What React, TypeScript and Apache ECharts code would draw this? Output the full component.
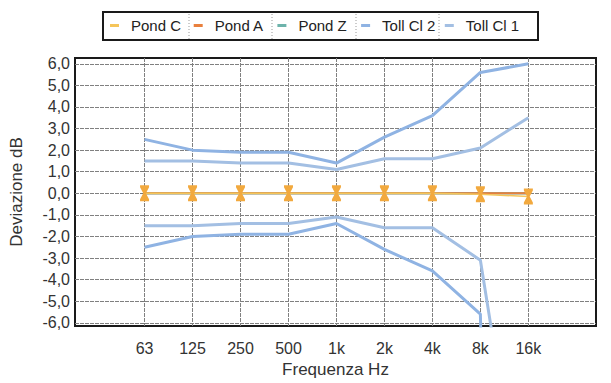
import React, { useEffect, useRef } from "react";
import * as echarts from "echarts";

const freqLabels = ["63", "125", "250", "500", "1k", "2k", "4k", "8k", "16k"];
const legendNames = ["Pond C", "Pond A", "Pond Z", "Toll Cl 2", "Toll Cl 1"];
const pondC = [0, 0, 0, 0, 0, 0, 0, -0.05, -0.15];
const pondA = [0, 0, 0, 0, 0, 0, 0, 0, 0];
const pondZ = [0, 0, 0, 0, 0, 0, 0, 0, 0];
const toll2Upper = [2.5, 2.0, 1.9, 1.9, 1.4, 2.6, 3.6, 5.6, 6.0];
const toll2Lower = [-2.5, -2.0, -1.9, -1.9, -1.4, -2.6, -3.6, -5.6, -100];
const toll1Upper = [1.5, 1.5, 1.4, 1.4, 1.1, 1.6, 1.6, 2.1, 3.5];
const toll1Lower = [-1.5, -1.5, -1.4, -1.4, -1.1, -1.6, -1.6, -3.1, -17];
const yTicks = [-6, -5, -4, -3, -2, -1, 0, 1, 2, 3, 4, 5, 6];
const xTicks = freqLabels.map((_, i) => i);

const toPairs = (arr: number[]) => arr.map((v, i) => [i, v]);

const FONT = "Liberation Sans";
const hourglass =
  "path://M0,0 L10,0 L10,2 L6.5,8 L10,14 L10,16 L0,16 L0,14 L3.5,8 L0,2 Z";

const C_POND_C = "#f5c55a";
const C_POND_A = "#e9803d";
const C_POND_Z = "#6db3ab";
const C_TOLL2 = "#8fb3e3";
const C_TOLL1 = "#a3bfe3";
const C_MARKER = "#f2a93e";

export default function App() {
  const ref = useRef<HTMLDivElement>(null);
  useEffect(() => {
    if (!ref.current) return;
    const chart = echarts.init(ref.current, null, { renderer: "svg" });
    const tollLine = (name: string, data: number[], color: string) => ({
      name,
      type: "line",
      data: toPairs(data),
      showSymbol: false,
      symbol: "none",
      lineStyle: { color, width: 3 },
      itemStyle: { color },
      z: 3,
    });
    chart.setOption({
      animation: false,
      backgroundColor: "#ffffff",
      textStyle: { fontFamily: FONT },
      legend: legendNames.map((name, i) => ({
        left: 110 + 83.7 * i,
        top: 18,
        padding: 0,
        icon: "rect",
        itemWidth: 9,
        itemHeight: 3,
        textStyle: {
          fontSize: 15,
          color: "#222",
          fontFamily: FONT,
          padding: [0, 0, 0, 7],
        },
        data: [name],
      })),
      graphic: [
        {
          type: "rect",
          shape: { x: 103, y: 12, width: 435, height: 28 },
          style: { fill: "none", stroke: "#1a1a1a", lineWidth: 2 },
          z: 100,
        },
        ...[189, 272, 356, 439].map((x) => ({
          type: "line",
          shape: { x1: x, y1: 14, x2: x, y2: 39 },
          style: { stroke: "#999", lineWidth: 1, lineDash: [1, 2] },
          z: 100,
        })),
      ],
      grid: {
        left: 72,
        right: 15,
        top: 58,
        bottom: 54,
        show: true,
        borderColor: "#1a1a1a",
        borderWidth: 2,
        backgroundColor: "#ffffff",
      },
      xAxis: {
        type: "value",
        min: -1.45,
        max: 9.41,
        name: "Frequenza Hz",
        nameLocation: "middle",
        nameGap: 35,
        nameTextStyle: { fontSize: 17, color: "#333", fontFamily: FONT },
        axisLine: { show: false },
        axisTick: {
          show: true,
          customValues: xTicks,
          length: 6,
          lineStyle: { color: "#777" },
        },
        axisLabel: {
          customValues: xTicks,
          margin: 14,
          fontSize: 16,
          color: "#333",
          fontFamily: FONT,
          formatter: (v: number) => freqLabels[Math.round(v)] ?? "",
        },
        splitLine: {
          show: true,
          lineStyle: { color: "#808080", width: 1, type: [4, 1] },
        },
      },
      yAxis: {
        type: "value",
        min: -6.15,
        max: 6.27,
        name: "Deviazione dB",
        nameLocation: "middle",
        nameGap: 50,
        nameTextStyle: { fontSize: 17, color: "#333", fontFamily: FONT },
        axisLine: { show: false },
        axisTick: {
          show: true,
          customValues: yTicks,
          length: 4,
          lineStyle: { color: "#777" },
        },
        axisLabel: {
          customValues: yTicks,
          margin: 5,
          fontSize: 16,
          color: "#333",
          fontFamily: FONT,
          formatter: (v: number) =>
            (Math.abs(v) < 1e-9 ? 0 : v).toFixed(1).replace(".", ","),
        },
        splitLine: {
          show: true,
          lineStyle: { color: "#808080", width: 1, type: [4, 1] },
        },
      },
      series: [
        tollLine("Toll Cl 2", toll2Upper, C_TOLL2),
        tollLine("Toll Cl 2", toll2Lower, C_TOLL2),
        tollLine("Toll Cl 1", toll1Upper, C_TOLL1),
        tollLine("Toll Cl 1", toll1Lower, C_TOLL1),
        {
          name: "Pond Z",
          type: "line",
          data: toPairs(pondZ),
          symbol: "none",
          lineStyle: { color: C_POND_Z, width: 2.5 },
          itemStyle: { color: C_POND_Z },
          z: 4,
        },
        {
          name: "Pond A",
          type: "line",
          data: toPairs(pondA),
          symbol: "none",
          lineStyle: { color: C_POND_A, width: 2 },
          itemStyle: { color: C_POND_A },
          z: 5,
        },
        {
          name: "Pond C",
          type: "line",
          data: toPairs(pondC).map((p) => ({
            value: p,
            itemStyle: { color: C_MARKER },
          })),
          symbol: hourglass,
          symbolSize: [9, 16],
          showSymbol: true,
          lineStyle: { color: C_POND_C, width: 1.5 },
          itemStyle: { color: C_POND_C },
          z: 6,
        },
      ],
    });
    return () => chart.dispose();
  }, []);
  return (
    <div
      ref={ref}
      style={{ position: "fixed", left: 0, top: 0, width: 611, height: 383 }}
    />
  );
}
